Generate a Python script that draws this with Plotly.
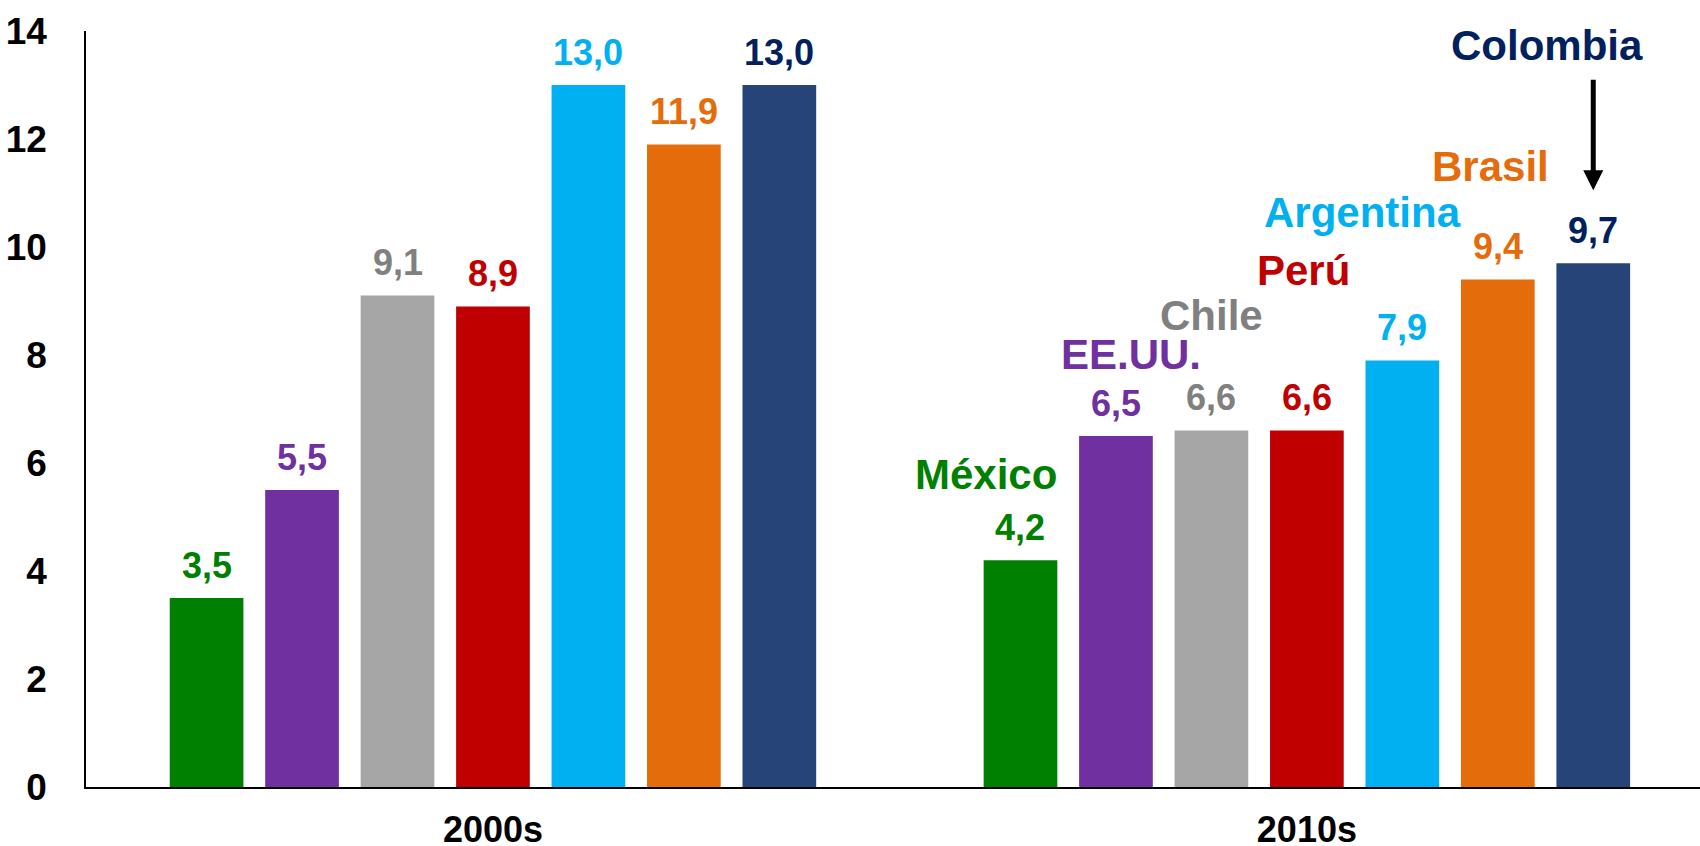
import plotly.graph_objects as go

# ---- data ----
decades = ["2000s", "2010s"]
countries = ["México", "EE.UU.", "Chile", "Perú", "Argentina", "Brasil", "Colombia"]
values_2000s = [3.5, 5.5, 9.1, 8.9, 13.0, 11.9, 13.0]
values_2010s = [4.2, 6.5, 6.6, 6.6, 7.9, 9.4, 9.7]
y_ticks = [0, 2, 4, 6, 8, 10, 12, 14]

# ---- styles ----
bar_colors = ["#008000", "#7030A0", "#A6A6A6", "#C00000", "#00B0F0", "#E46C0A", "#264478"]
text_colors = ["#008000", "#7030A0", "#808080", "#C00000", "#00B0F0", "#E46C0A", "#002060"]
name_shift_x = [-34, 15, 0, -3, -40, -7, -46]
name_shift_y = [86, 82, 115, 160, 148, 113, 218]
FONT = "Liberation Sans, Arial, sans-serif"
BARGAP = 0.179
BARGROUPGAP = 0.228

fig = go.Figure()
for i, c in enumerate(countries):
    fig.add_trace(go.Bar(
        x=decades, y=[values_2000s[i], values_2010s[i]], name=c,
        marker=dict(color=bar_colors[i], line=dict(width=0)),
        hoverinfo="skip",
    ))

n = len(countries)
slot = (1 - BARGAP) / n
annotations = []
for i, c in enumerate(countries):
    for k, vals in enumerate([values_2000s, values_2010s]):
        v = vals[i]
        xc = k + (i - (n - 1) / 2) * slot
        annotations.append(dict(
            x=xc, y=v, xref="x", yref="y", text=f"{v:.1f}".replace(".", ","),
            showarrow=False, yanchor="middle", xanchor="center", yshift=33,
            font=dict(family=FONT, size=36, color=text_colors[i], weight="bold"),
        ))
    xc = 1 + (i - (n - 1) / 2) * slot
    annotations.append(dict(
        x=xc, y=values_2010s[i], xref="x", yref="y", text=c,
        showarrow=False, yanchor="middle", xanchor="center",
        xshift=name_shift_x[i], yshift=name_shift_y[i],
        font=dict(family=FONT, size=42, color=text_colors[i], weight="bold"),
    ))

# arrow pointing at Colombia 2010s
xc_col = 1 + ((n - 1) - (n - 1) / 2) * slot
annotations.append(dict(
    x=xc_col, y=values_2010s[-1], xref="x", yref="y", text="",
    showarrow=True, arrowhead=2, arrowwidth=5, arrowsize=0.8, arrowcolor="#000000",
    ax=0, ay=-112, yshift=73,
))

fig.update_layout(
    width=1700, height=846,
    margin=dict(l=86, r=0, t=31, b=59, autoexpand=False),
    paper_bgcolor="white", plot_bgcolor="white",
    barmode="group", bargap=BARGAP, bargroupgap=BARGROUPGAP,
    showlegend=False,
    annotations=annotations,
    font=dict(family=FONT, color="#000000"),
)
fig.update_xaxes(
    type="category", range=[-0.5, 1.483], automargin=False,
    showline=True, linecolor="#000000", linewidth=1.5, mirror=False,
    showgrid=False, ticks="", ticklabelstandoff=10,
    tickfont=dict(family=FONT, size=36, color="#000000", weight="bold"),
)
fig.update_yaxes(
    range=[0, 14], tickvals=y_ticks, automargin=False,
    showline=True, linecolor="#000000", linewidth=1.5,
    showgrid=False, zeroline=False, ticks="", ticklabelstandoff=30,
    tickfont=dict(family=FONT, size=37, color="#000000", weight="bold"),
)

fig.write_html(
    "out.html",
    config={"displayModeBar": False},
    post_script="document.body.style.margin='0';document.body.style.padding='0';",
)
